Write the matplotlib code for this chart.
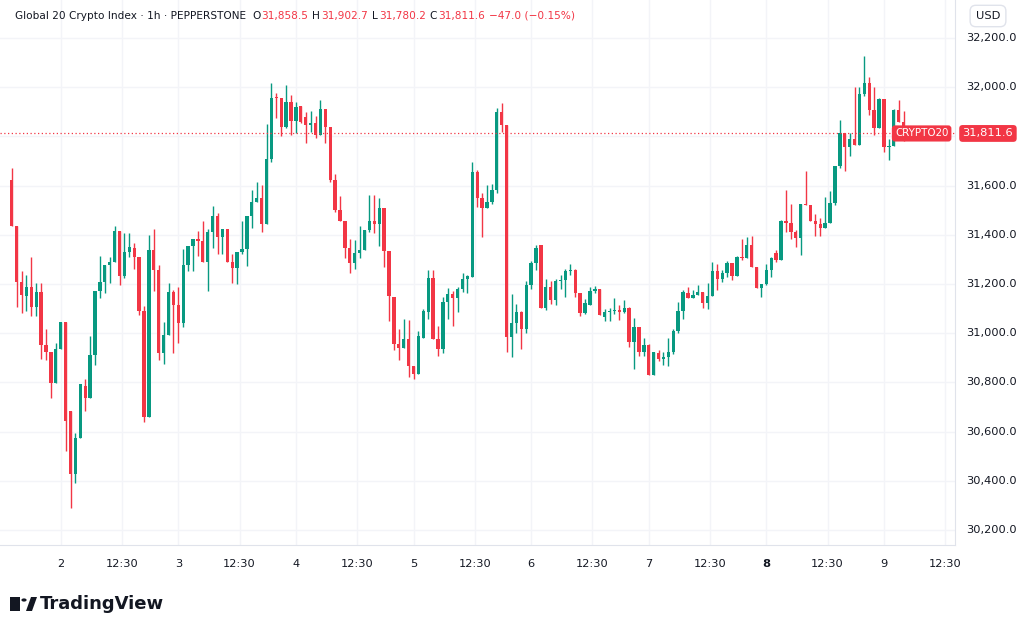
import numpy as np
import matplotlib
matplotlib.use("Agg")
import matplotlib.pyplot as plt
from matplotlib.patches import Rectangle, Polygon, Circle

# Hourly candles, day 1 14:00 -> day 9 04:00  (open, high, low, close)
ohlc = [
    (31622, 31673, 31435, 31435), (31435, 31435, 31105, 31209), (31209, 31254, 31081, 31155),
    (31149, 31236, 31091, 31186), (31186, 31311, 31069, 31105), (31105, 31205, 31069, 31167),
    (31167, 31205, 30894, 30951), (30951, 31016, 30889, 30925), (30925, 30925, 30737, 30798),
    (30798, 30962, 30798, 30937), (30937, 31045, 30937, 31045), (31045, 31045, 30523, 30642),
    (30685, 30685, 30288, 30427), (30427, 30594, 30393, 30574), (30574, 30794, 30574, 30794),
    (30785, 30812, 30685, 30737), (30737, 30989, 30737, 30910), (30910, 31172, 30869, 31172),
    (31172, 31315, 31143, 31209), (31209, 31275, 31164, 31275), (31279, 31311, 31205, 31288),
    (31288, 31434, 31288, 31415), (31415, 31415, 31197, 31231), (31231, 31407, 31223, 31329),
    (31329, 31407, 31309, 31352), (31347, 31368, 31261, 31309), (31311, 31311, 31073, 31088),
    (31088, 31111, 30639, 30658), (30658, 31397, 30658, 31336), (31339, 31423, 31170, 31257),
    (31257, 31279, 30892, 30918), (30918, 31047, 30873, 30993), (30993, 31205, 30993, 31167),
    (31167, 31175, 30921, 31115), (31115, 31186, 30962, 31040), (31040, 31341, 31023, 31279),
    (31279, 31354, 31254, 31354), (31354, 31383, 31254, 31383), (31383, 31417, 31315, 31374),
    (31374, 31454, 31288, 31288), (31288, 31422, 31170, 31411), (31411, 31515, 31347, 31475),
    (31475, 31488, 31322, 31390), (31390, 31422, 31322, 31422), (31422, 31422, 31288, 31288),
    (31288, 31322, 31205, 31265), (31265, 31329, 31200, 31329), (31329, 31454, 31322, 31343),
    (31343, 31475, 31271, 31475), (31475, 31581, 31428, 31533), (31533, 31615, 31533, 31551),
    (31551, 31604, 31411, 31445), (31445, 31849, 31445, 31706), (31706, 32016, 31697, 31955),
    (31959, 31975, 31873, 31955), (31955, 31955, 31803, 31837), (31837, 32007, 31833, 31941),
    (31941, 31969, 31805, 31864), (31864, 31939, 31812, 31918), (31924, 31924, 31853, 31860),
    (31880, 31897, 31771, 31846), (31846, 31903, 31819, 31853), (31853, 31883, 31792, 31805),
    (31805, 31948, 31805, 31910), (31910, 31910, 31771, 31837), (31837, 31837, 31615, 31624),
    (31624, 31646, 31492, 31502), (31502, 31556, 31454, 31454), (31454, 31454, 31305, 31345),
    (31345, 31383, 31245, 31284), (31284, 31377, 31261, 31325), (31325, 31434, 31305, 31336),
    (31336, 31420, 31336, 31420), (31420, 31560, 31411, 31454), (31454, 31560, 31408, 31445),
    (31445, 31550, 31354, 31509), (31509, 31509, 31268, 31332), (31332, 31332, 31050, 31152),
    (31148, 31148, 30930, 30957), (30957, 31016, 30889, 30941), (30941, 31057, 30941, 30975),
    (30975, 31053, 30821, 30866), (30866, 30866, 30812, 30832), (30832, 31009, 30832, 30989),
    (30982, 31098, 30982, 31091), (31084, 31257, 31057, 31223), (31223, 31257, 30975, 30975),
    (30975, 31030, 30907, 30934), (30934, 31145, 30921, 31125), (31125, 31183, 31057, 31159),
    (31161, 31173, 31030, 31143), (31143, 31189, 31084, 31179), (31179, 31245, 31166, 31220),
    (31220, 31237, 31162, 31231), (31228, 31694, 31228, 31653), (31653, 31664, 31512, 31551),
    (31551, 31569, 31392, 31507), (31507, 31603, 31507, 31535), (31535, 31607, 31524, 31582),
    (31582, 31916, 31569, 31898), (31898, 31936, 31816, 31844), (31844, 31844, 30922, 30983),
    (30983, 31160, 30902, 31042), (31042, 31120, 31000, 31084), (31084, 31092, 30936, 31016),
    (31016, 31212, 31001, 31194), (31194, 31294, 31181, 31287), (31287, 31358, 31258, 31347),
    (31358, 31358, 31102, 31102), (31102, 31222, 31095, 31188), (31188, 31211, 31117, 31133),
    (31133, 31222, 31113, 31211), (31211, 31238, 31181, 31218), (31218, 31260, 31147, 31252),
    (31252, 31280, 31235, 31256), (31256, 31260, 31147, 31164), (31164, 31164, 31069, 31081),
    (31081, 31140, 31079, 31122), (31116, 31188, 31116, 31170), (31170, 31190, 31164, 31178),
    (31178, 31178, 31075, 31075), (31065, 31099, 31049, 31086), (31086, 31102, 31049, 31090),
    (31090, 31144, 31079, 31095), (31095, 31113, 31052, 31086), (31086, 31133, 31081, 31102),
    (31102, 31106, 30945, 30966), (30966, 31061, 30854, 31027), (31027, 31027, 30909, 30925),
    (30925, 30981, 30906, 30952), (30952, 30956, 30831, 30831), (30831, 30922, 30831, 30922),
    (30919, 30932, 30885, 30895), (30895, 30922, 30870, 30902), (30902, 30981, 30865, 30925),
    (30925, 31017, 30915, 31007), (31007, 31126, 30999, 31092), (31092, 31174, 31056, 31167),
    (31164, 31188, 31141, 31143), (31143, 31177, 31143, 31156), (31156, 31196, 31156, 31169),
    (31169, 31169, 31101, 31121), (31121, 31205, 31097, 31153), (31153, 31288, 31153, 31254),
    (31254, 31281, 31176, 31219), (31219, 31257, 31209, 31243), (31243, 31295, 31230, 31284),
    (31284, 31284, 31216, 31232), (31232, 31314, 31232, 31311), (31311, 31382, 31298, 31304),
    (31304, 31390, 31304, 31359), (31359, 31393, 31270, 31270), (31270, 31270, 31182, 31185),
    (31185, 31200, 31146, 31200), (31200, 31281, 31196, 31257), (31257, 31308, 31227, 31304),
    (31327, 31338, 31291, 31298), (31298, 31460, 31298, 31456), (31456, 31580, 31413, 31447),
    (31447, 31525, 31382, 31410), (31410, 31420, 31352, 31388), (31388, 31525, 31318, 31525),
    (31525, 31657, 31521, 31521), (31521, 31521, 31454, 31456), (31456, 31485, 31393, 31443),
    (31443, 31470, 31395, 31426), (31426, 31555, 31426, 31447), (31447, 31576, 31447, 31528),
    (31528, 31680, 31521, 31680), (31680, 31867, 31670, 31813), (31813, 31813, 31660, 31755),
    (31755, 31813, 31718, 31788), (31788, 32000, 31765, 31765), (31765, 32000, 31765, 31972),
    (31972, 32125, 31962, 32016), (32016, 32041, 31887, 31908), (31908, 32000, 31806, 31833),
    (31833, 31955, 31833, 31951), (31951, 31951, 31738, 31756), (31756, 31788, 31704, 31761),
    (31761, 31911, 31761, 31905), (31905, 31948, 31860, 31860), (31858.5, 31902.7, 31780.2, 31811.6),
]

# x tick labels every 12h, first day-2 midnight is candle 10
tick_labels = ["2", "12:30", "3", "12:30", "4", "12:30", "5", "12:30",
               "6", "12:30", "7", "12:30", "8", "12:30", "9", "12:30"]
price_ticks = np.arange(30200, 32201, 200)
last_price = 31811.6

UP = "#089981"
DOWN = "#f23645"
GRID = "#f3f4f8"
TXT = "#131722"

df = np.array(ohlc)
o, h, l, c = df[:, 0], df[:, 1], df[:, 2], df[:, 3]
idx = np.arange(len(df))
cols = np.where(c >= o, UP, DOWN)

fig = plt.figure(figsize=(10.24, 6.3), dpi=100)
ax = fig.add_axes([0, 85 / 630, 955 / 1024, 545 / 630])

ax.vlines(idx, l, h, colors=cols, linewidth=1, zorder=2)
body = np.maximum(np.abs(c - o), 3)
ax.bar(idx, body, bottom=np.minimum(o, c), width=0.68, color=cols, zorder=3, linewidth=0)

ax.set_xlim(-2.39, 192.5)
ax.set_ylim(30139, 32354)

# grid
xt = 10 + np.arange(len(tick_labels)) * 12 + np.where(np.arange(len(tick_labels)) % 2 == 1, 0.5, 0)
for x in xt:
    ax.axvline(x, color=GRID, lw=1, zorder=0)
for p in price_ticks:
    ax.axhline(p, color=GRID, lw=1, zorder=0)

ax.axhline(last_price, color=DOWN, lw=0.9, ls=(0, (1, 2)), zorder=4)

ax.set_xticks([])
ax.set_yticks([])
for s in ["top", "left"]:
    ax.spines[s].set_visible(False)
ax.spines["right"].set_color("#e0e3eb")
ax.spines["bottom"].set_color("#e0e3eb")

# right price scale (label hidden under the last-price tag)
for p in price_ticks:
    if abs(p - last_price) < 60:
        continue
    ax.text(1.012, (p - 30139) / (32354 - 30139), f"{p:,.1f}", transform=ax.transAxes,
            ha="left", va="center", fontsize=8.2, color=TXT, clip_on=False)

# time labels
for x, lab in zip(xt, tick_labels):
    ax.text(x, -0.035, lab, transform=ax.get_xaxis_transform(), ha="center", va="center",
            fontsize=8.2, color=TXT, fontweight="bold" if lab == "8" else "normal")

# last price tags
yfrac = (last_price - 30139) / (32354 - 30139)
ax.text(0.993, yfrac, "CRYPTO20", transform=ax.transAxes, ha="right", va="center",
        fontsize=7.4, color="white", zorder=6,
        bbox=dict(boxstyle="round,pad=0.3", fc=DOWN, ec="none"))
ax.text(1.008, yfrac, "31,811.6", transform=ax.transAxes, ha="left", va="center",
        fontsize=8.2, color="white", zorder=6, clip_on=False,
        bbox=dict(boxstyle="round,pad=0.3", fc=DOWN, ec="none"))

# header, laid out piece by piece
W, H = 1024, 630
pieces = [("Global 20 Crypto Index · 1h · PEPPERSTONE", TXT, 6), ("O", TXT, 1),
          ("31,858.5", DOWN, 4), ("H", TXT, 1), ("31,902.7", DOWN, 4), ("L", TXT, 1),
          ("31,780.2", DOWN, 4), ("C", TXT, 1), ("31,811.6", DOWN, 4),
          ("−47.0 (−0.15%)", DOWN, 0)]
renderer = fig.canvas.get_renderer()
xpos = 15
for t, col, gap in pieces:
    tx = fig.text(xpos / W, 1 - 16 / H, t, fontsize=7.6, color=col, va="center")
    xpos += tx.get_window_extent(renderer).width + gap

fig.text(988 / W, 1 - 16 / H, "USD", fontsize=8.2, color=TXT, ha="center", va="center",
         bbox=dict(boxstyle="round,pad=0.5", fc="white", ec="#e0e3eb"))

# TradingView logo
fig.patches.append(Rectangle((10 / W, 1 - 611 / H), 10 / W, 14 / H, transform=fig.transFigure,
                             fc="#131722", ec="none"))
fig.patches.append(Circle((24 / W, 1 - 600 / H), 2.6 / W, transform=fig.transFigure,
                          fc="#131722", ec="none"))
fig.patches.append(Polygon([(26 / W, 1 - 611 / H), (31 / W, 1 - 597 / H), (37 / W, 1 - 597 / H),
                            (32 / W, 1 - 611 / H)], closed=True, transform=fig.transFigure,
                           fc="#131722", ec="none"))
fig.text(40 / W, 1 - 604 / H, "TradingView", fontsize=13, fontweight="bold", color=TXT,
         va="center")

fig.savefig("out.png", dpi=100, facecolor="white")
